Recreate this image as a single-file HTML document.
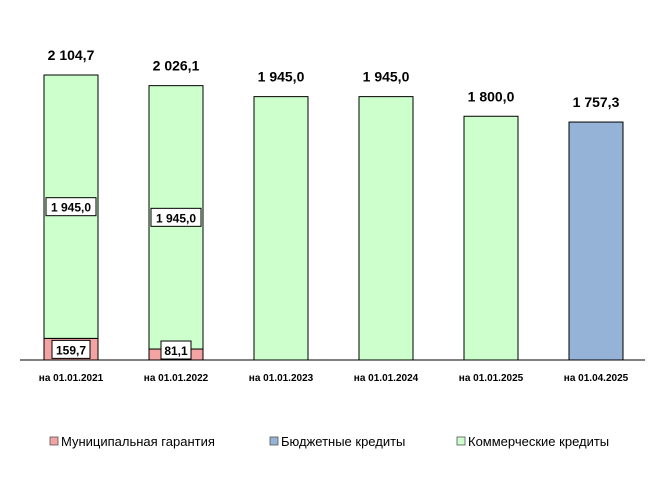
<!DOCTYPE html>
<html><head><meta charset="utf-8"><style>
body{margin:0;background:#fff;}
svg{display:block;font-family:"Liberation Sans","DejaVu Sans",sans-serif;}
</style></head><body>
<svg id="chart" width="665" height="482" xmlns="http://www.w3.org/2000/svg"></svg>
<script>
const categories=["на 01.01.2021","на 01.01.2022","на 01.01.2023","на 01.01.2024","на 01.01.2025","на 01.04.2025"];
const guarantee=[159.7,81.1,0,0,0,0];
const budget=[0,0,0,0,0,1757.3];
const commercial=[1945.0,1945.0,1945.0,1945.0,1800.0,0];
const totalLabels=["2 104,7","2 026,1","1 945,0","1 945,0","1 800,0","1 757,3"];
const segLabels=["1 945,0","1 945,0","","","",""];
const guarLabels=["159,7","81,1","","","",""];

const svg=document.getElementById('chart');
const NS='http://www.w3.org/2000/svg';
const base=360, scale=(360-75)/2104.7, x0=44, step=105, bw=54;
const y=v=>base-v*scale;
const xb=i=>x0+i*step;
function mk(t,a,txt){const e=document.createElementNS(NS,t);for(const k in a)e.setAttribute(k,a[k]);if(txt!==undefined)e.textContent=txt;svg.appendChild(e);return e;}
function boxLabel(cx,cy,txt,w){
  const r=mk('rect',{x:cx-w/2,y:cy-9,width:w,height:18,fill:'#fff',stroke:'#000','stroke-width':1});
  
  
  const t=mk('text',{x:cx,y:cy+5,'text-anchor':'middle','font-size':12,'font-weight':'bold'},txt);
  
  
}
categories.forEach((c,i)=>{
  const x=xb(i); let acc=0;
  const segs=[[guarantee[i],'#f4a3a3','bar-guarantee'],[budget[i],'#95b3d7','bar-budget'],[commercial[i],'#ccffcc','bar-commercial']];
  segs.forEach(s=>{
    if(s[0]>0){
      const r=mk('rect',{x:x,y:y(acc+s[0]),width:bw,height:s[0]*scale,fill:s[1],stroke:'#000','stroke-width':1});
      
      
      acc+=s[0];
    }
  });
  const tot=guarantee[i]+budget[i]+commercial[i];
  const t=mk('text',{x:x+bw/2,y:y(tot)-15,'text-anchor':'middle','font-size':14,'font-weight':'bold'},totalLabels[i]);
  
  
  if(segLabels[i]) boxLabel(x+bw/2,y(guarantee[i]+commercial[i]/2),segLabels[i],50);
  if(guarLabels[i]) boxLabel(x+bw/2,base-guarantee[i]*scale+(i==0?11:1),guarLabels[i],i==0?38:30);
  const l=mk('text',{x:x+bw/2,y:381,'text-anchor':'middle','font-size':10,'font-weight':'bold'},c);
  
  
});
const ax=mk('line',{x1:20,x2:645,y1:base,y2:base,stroke:'#000','stroke-width':1});


const legend=[["Муниципальная гарантия",'#f4a3a3',50],["Бюджетные кредиты",'#95b3d7',270],["Коммерческие кредиты",'#ccffcc',457]];
legend.forEach(g=>{
  const r=mk('rect',{x:g[2],y:437,width:8,height:8,fill:g[1],stroke:'#555','stroke-width':0.8});
  
  
  const t=mk('text',{x:g[2]+11,y:446,'font-size':13},g[0]);
  
  
});
</script>
</body></html>
